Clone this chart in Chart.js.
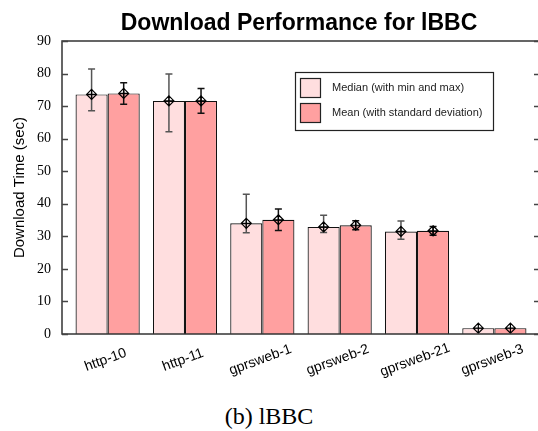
<!DOCTYPE html>
<html>
<head>
<meta charset="utf-8">
<script src="https://cdn.jsdelivr.net/npm/chart.js@4.4.1/dist/chart.umd.min.js"></script>
<style>
  html, body { margin: 0; padding: 0; background: #fff; overflow: hidden; width: 538px; height: 431px; }
  #wrap { position: relative; width: 538px; height: 431px; overflow: hidden; }
  canvas { position: absolute; left: 0; top: 0; }
  #caption { position: absolute; left: 0; top: 402px; width: 538px; text-align: center;
             font: 24px "Liberation Serif", "DejaVu Serif", serif; line-height: 28px; color: #000; }
</style>
</head>
<body>
<div id="wrap">
  <canvas id="c" width="541" height="400"></canvas>
  <div id="caption">(b) lBBC</div>
</div>
<script>
// Download times (seconds) per configuration
const categories = ['http-10', 'http-11', 'gprsweb-1', 'gprsweb-2', 'gprsweb-21', 'gprsweb-3'];
const medianValues = [73.6, 71.6, 34.0, 32.9, 31.5, 1.8];
const medianMin    = [68.6, 62.1, 31.1, 31.2, 29.1, 1.8];
const medianMax    = [81.4, 79.9, 42.9, 36.5, 34.7, 1.8];
const meanValues   = [73.9, 71.6, 35.1, 33.4, 31.7, 1.8];
const meanStdDev   = [3.3, 3.8, 3.3, 1.4, 1.35, 0];
const yTicks = [0, 10, 20, 30, 40, 50, 60, 70, 80, 90];
const seriesLabels = ['Median (with min and max)', 'Mean (with standard deviation)'];
const seriesColors = ['#FFDEDF', '#FFA0A0'];

const SANS = '"Liberation Sans", Arial, Helvetica, sans-serif';
const SERIF = '"Liberation Serif", "DejaVu Serif", serif';

// whisker ranges [low, high] for each series
const whiskers = [
  medianValues.map((v, i) => [medianMin[i], medianMax[i]]),
  meanValues.map((v, i) => [v - meanStdDev[i], v + meanStdDev[i]])
];
const whiskerColors = ['#555', '#111'];

const decorations = {
  id: 'decorations',
  afterDatasetsDraw(chart) {
    const { ctx, chartArea: a, scales: { x, y } } = chart;
    ctx.save();

    // error bars with diamond markers
    chart.data.datasets.forEach((ds, di) => {
      const meta = chart.getDatasetMeta(di);
      meta.data.forEach((bar, i) => {
        const [lo, hi] = whiskers[di][i];
        const cx = bar.x;
        const yc = y.getPixelForValue(ds.data[i].y);
        const yl = y.getPixelForValue(lo);
        const yh = y.getPixelForValue(hi);
        ctx.strokeStyle = whiskerColors[di];
        ctx.lineWidth = 1.5;
        if (hi - lo > 0.01) {
          ctx.beginPath();
          ctx.moveTo(cx, yl); ctx.lineTo(cx, yh);
          ctx.moveTo(cx - 3.5, yl); ctx.lineTo(cx + 3.5, yl);
          ctx.moveTo(cx - 3.5, yh); ctx.lineTo(cx + 3.5, yh);
          ctx.stroke();
        }
        // diamond
        const r = 5;
        ctx.strokeStyle = '#000';
        ctx.lineWidth = 1.2;
        ctx.beginPath();
        ctx.moveTo(cx, yc - r); ctx.lineTo(cx + r, yc); ctx.lineTo(cx, yc + r); ctx.lineTo(cx - r, yc);
        ctx.closePath();
        ctx.moveTo(cx - r, yc); ctx.lineTo(cx + r, yc);
        ctx.moveTo(cx, yc - r); ctx.lineTo(cx, yc + r);
        ctx.stroke();
      });
    });

    // frame
    ctx.strokeStyle = '#333';
    ctx.lineWidth = 1.5;
    ctx.strokeRect(a.left, a.top, a.right - a.left, a.bottom - a.top);

    // inward y ticks on both sides
    ctx.strokeStyle = '#444';
    ctx.lineWidth = 1.3;
    ctx.beginPath();
    yTicks.forEach(t => {
      const py = Math.round(y.getPixelForValue(t)) + 0.5;
      ctx.moveTo(a.left, py); ctx.lineTo(a.left + 6, py);
      ctx.moveTo(a.right, py); ctx.lineTo(a.right - 6, py);
    });
    ctx.stroke();
    ctx.restore();
  },
  afterDraw(chart) {
    const { ctx, chartArea: a, scales: { x } } = chart;
    ctx.save();

    // title
    ctx.fillStyle = '#000';
    ctx.font = 'bold 23px ' + SANS;
    ctx.textAlign = 'center';
    ctx.textBaseline = 'middle';
    ctx.fillText('Download Performance for lBBC', (a.left + a.right) / 2 - 2, a.top - 17);

    // rotated category labels
    ctx.font = '14px ' + SANS;
    categories.forEach((c, i) => {
      const px = x.getPixelForValue(i);
      ctx.save();
      ctx.translate(px - 2, a.bottom + 26);
      ctx.rotate(-20 * Math.PI / 180);
      ctx.fillText(c, 0, 0);
      ctx.restore();
    });

    // legend box
    const bx = a.right - 245, by = a.top + 31, bw = 198, bh = 58;
    ctx.fillStyle = '#fff';
    ctx.fillRect(bx, by, bw, bh);
    ctx.strokeStyle = '#222';
    ctx.lineWidth = 1.2;
    ctx.strokeRect(bx + 0.5, by + 0.5, bw, bh);
    ctx.font = '11px ' + SANS;
    ctx.textAlign = 'left';
    seriesLabels.forEach((lab, i) => {
      const sy = by + 6 + i * 25;
      ctx.fillStyle = seriesColors[i];
      ctx.fillRect(bx + 5, sy, 20, 19);
      ctx.strokeStyle = '#222';
      ctx.strokeRect(bx + 5.5, sy + 0.5, 20, 19);
      ctx.fillStyle = '#222';
      ctx.fillText(lab, bx + 37, sy + 10);
    });
    ctx.restore();
  }
};

new Chart(document.getElementById('c'), {
  type: 'bar',
  data: {
    datasets: seriesLabels.map((lab, di) => ({
      label: lab,
      data: (di === 0 ? medianValues : meanValues).map((v, i) => ({ x: i, y: v })),
      backgroundColor: seriesColors[di],
      borderColor: '#111',
      borderWidth: 1.2,
      categoryPercentage: 0.83,
      barPercentage: 1.0
    }))
  },
  options: {
    responsive: false,
    animation: false,
    layout: { padding: { top: 41, right: 1, bottom: 66, left: 0 } },
    plugins: { legend: { display: false }, title: { display: false }, tooltip: { enabled: false } },
    scales: {
      x: {
        type: 'linear',
        min: -0.59,
        max: 5.59,
        offset: false,
        display: false,
        afterBuildTicks: s => { s.ticks = categories.map((c, i) => ({ value: i })); }
      },
      y: {
        min: 0,
        max: 90,
        afterBuildTicks: s => { s.ticks = yTicks.map(v => ({ value: v })); },
        afterFit: s => { s.width = 62; },
        grid: { display: false, drawTicks: true, tickLength: 8 },
        border: { display: false },
        ticks: { color: '#000', padding: 3, font: { family: SERIF, size: 14 } },
        title: {
          display: true,
          text: 'Download Time (sec)',
          color: '#000',
          padding: { top: 11, bottom: 0 },
          font: { family: SANS, size: 15 }
        }
      }
    }
  },
  plugins: [decorations]
});
</script>
</body>
</html>
